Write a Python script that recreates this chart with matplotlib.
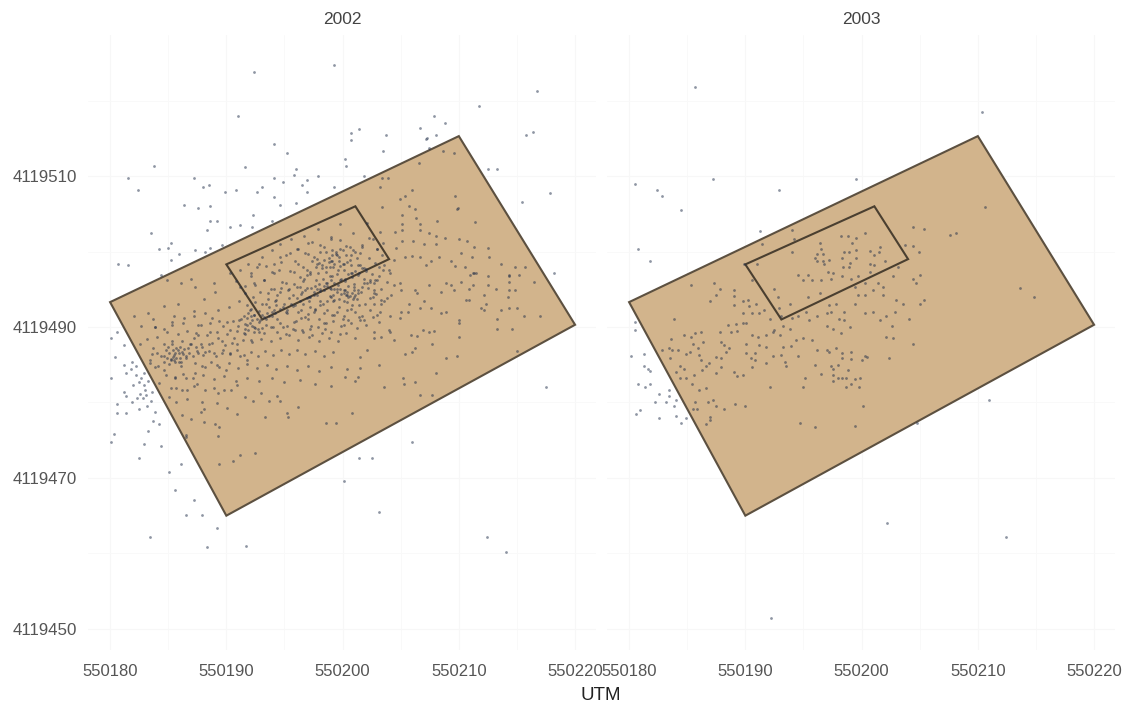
import numpy as np
import matplotlib
matplotlib.use('Agg')
import matplotlib.pyplot as plt

plt.rcParams['font.family'] = ['Liberation Sans', 'DejaVu Sans']

# ================= DATA =================
E0 = 550000
N0 = 4119000

YEARS = ['2002', '2003']
X_TICKS = [550180, 550190, 550200, 550210, 550220]
Y_TICKS = [4119450, 4119470, 4119490, 4119510]

# plot corners (easting, northing), offsets from E0 / N0
PLOT_X = [180, 210, 220, 190]
PLOT_Y = [493.3, 515.3, 490.3, 465]
CORE_X = [190, 201.1, 204, 193.1]
CORE_Y = [498.3, 506, 499, 491]

# points, offsets from E0 / N0
TOP_2002 = [
 (192.4,523.8),(199.3,524.7),(191,518),(194.1,514.3),(195.2,513),(183.8,511.4),(191.6,511.2),(196,510.9),
 (195.8,510.2),(194.1,509.8),(196.9,509.5),(197.9,510),(194.9,509.2),(181.5,509.7),(182.4,508.2),(187.2,509.7),
 (188,508.6),(188.5,508.8),(193.1,508.6),(189.9,507.9),(190.8,508.1),(192.6,507.9),(196.5,508.8),(196.9,507.9),
 (199.3,508.6),(194.1,507.2),(194.6,506.2),(196,506.4),(186.4,506.2),(187.6,505.8),(188.6,506.1),(192.3,504.8),
 (188.6,504),(189.2,504),(191.2,503.5),(190.3,503.2),(192.2,503.2),(188.3,502.8),(193.9,504.1),(183.5,502.4),
 (185.2,501.1),(185,500.5),(184.2,500.3),(185.9,499.7),(187.3,500.2),(188.2,500),(188.6,500.5),(189.6,500.9),
 (185.2,498.9),(180.7,498.4),(181.5,498.2),(216.7,521.3),(211.7,519.3),(207.9,517.9),(208.8,517),(206.7,516.4),
 (203.7,515.4),(201.4,516.3),(200.7,515.7),(200.7,514.8),(207.2,514.9),(207.3,515),(208,515.4),(203.5,513.3),
 (200.2,512.3),(200.3,511.4),(201.8,510),(207.4,513.7),(215.8,515.4),(216.4,515.9),(212.5,510.9),(213.3,510.9),
 (217.8,507.7),(215.4,506.6),(218.2,497.1),
]
RIGHT_2002 = [
 (208.6,513.3),(209.6,513),(206.6,511.8),(203.9,509.8),(203.4,509.8),(203.2,508.6),(206,508.2),(205.4,507.4),
 (204.9,507),(209.7,507.4),(209.8,505.7),(209.9,505.8),(205.7,506.1),(206.2,505.7),(203.4,505.9),(205.1,504.8),
 (206.3,504.4),(208.1,504),(211.4,503.9),(205.1,503.7),(206.7,503.7),(206.7,502.9),(205.1,502.9),(204.5,502.6),
 (207.4,502.4),(208.8,501.8),(208,502),(210,501.6),(210.7,501.4),(205.1,501.4),(206.1,501.4),(207,501),(208,501),
 (211.3,500.6),(212.5,500.5),(204.6,500.5),(210.2,499.8),(206,499.4),(206.7,499.3),(205.4,499.3),(208.3,499.3),
 (211.1,499.3),(212.6,499.3),(207.6,498.7),(207.2,498.2),(209.3,498.7),(209.7,498.1),(210.5,498),(213.6,498.4),
 (214.8,498),(215.7,498),(211.3,497.1),(211,496.9),(214.3,496.8),(212.5,496.7),(203.5,497.5),(204.4,498.9),
 (203.1,496.7),(204.1,497.1),(214.3,496.9),(214.3,496),(214.3,494.9),(214.8,494.9),(214.2,494),(216.5,496),
 (215.2,496.9),(213.2,495.1),(212.5,495.6),(212.2,494.2),(212.3,493.1),(211.9,492.5),(212.2,492.3),(210.6,493.6),
 (210.9,493.6),(211.2,495.6),(210.9,495.1),(211.2,497.1),(211.5,497.2),(210.2,496),(209.6,494.9),(209.3,495.6),
 (208.9,495.8),(208.5,494.7),(207.4,495.6),(207,493.4),(207.6,492.5),(206.7,492.5),(206.2,494.9),(206.4,494.5),
 (205.7,493.1),(205,494.9),(204.9,495.8),(204.4,495.6),(205.6,492),(205,492),(204.1,491.4),(203.3,493.6),
 (203.6,493.4),(202.7,493.1),(203,496.2),(202.6,494),(201.8,495.8),(201,494.9),(201,494),(200.4,494.2),
 (200.1,494.9),(201.3,494.5),(201.7,491.4),(200.7,490.5),(201.1,492),(200.1,490.3),(201.5,490.9),(203.1,490.7),
 (204,489.6),(202.7,488.5),(201.1,488.5),(200.3,489.2),(213.3,489.8),(214.6,489.8),(213.3,491),(215.6,491.4),
 (217,491.4),(213.6,492.3),(214.3,492.5),(215,492.5),(210,490.5),(210,490.9),(208.9,492),(208.5,491.8),
 (204.9,491.2),(204.4,488.3),(204.1,489.4),(202.7,489.4),(203.3,488.7),(206.9,489.6),(207.4,489.4),(207.9,489.5),
 (206.4,488.8),(205.9,488.9),(210,488.7),(207.7,487.8),(206,486.7),(206.2,487.2),(205.4,486.4),(202.1,486.9),
 (201.5,486),(201.5,484.6),(203.1,485),(208.9,485.9),(209.8,486.2),(215,486.8),(208,483.9),(205.2,483.3),
 (205.3,482.5),(206.2,482.7),(203.6,482.1),(206.7,481),(207.7,481),(200.8,478.6),(201.3,483.4),(200.2,483.4),
 (201.1,482.8),(200.4,484.5),
]
OUTSIDE_2002 = [
 (180.1,488.5),(180.6,489.3),(181.2,487.6),(180.4,486),(180.1,483.2),(181.4,483.9),(181.8,484.4),(181.2,485),
 (182,482.3),(182.7,483.2),(182.9,482.3),(182.6,481.1),(183,481.7),(183.6,481.4),(182.8,480.6),(181.2,481.4),
 (181.4,480.8),(180.6,479.8),(181.9,480.1),(182.5,479.2),(183.2,479.5),(180.6,478.6),(181.4,478.6),(183.9,478.8),
 (183.7,477.5),(184.2,477.2),(180.3,475.8),(180.1,474.8),(183.3,476.2),(182.9,474.5),(184.4,474.3),(182.5,472.6),
 (186.1,471.9),(185.1,470.8),(186.5,475.7),(182.2,483.6),(182.5,482.7),(182.9,483.9),(183.3,482.9),(183.1,481),
 (182.3,480.6),(183.5,480.2),(181.9,485.3),(182.2,484.9),(185.6,468.4),(187.2,467.1),(186.5,465.1),(187.9,465.1),
 (189.2,463.4),(183.4,462.2),(188.3,460.9),(191.7,461),(203.1,465.5),(200.1,469.6),(212.4,462.2),(214.1,460.2),
 (217.5,482.1),(206,474.8),(201.4,472.7),(202.5,472.7),
]
LEFT_2002 = [
 (184.4,496.9),(184.9,496.2),(186.1,495.9),(187,496.4),(187.3,495.3),(188.9,495.8),(189,494.7),(188.1,493.7),
 (185.8,493.1),(184.6,492.8),(183.3,491.9),(182.1,491.4),(182.7,490.2),(183.9,490),(185.3,490.7),(186.4,491.2),
 (187.2,492.1),(188.2,491.8),(189.3,492.2),(190.2,492.6),(191.1,493.5),(191.8,492.9),(192.3,494),(187.6,490.3),
 (188.6,490.6),(189.7,490.2),(190.6,490.8),(191.3,491.1),(192.1,491.5),(192.8,490.7),(193.1,489.9),(192.4,489.3),
 (191.6,489.8),(190.9,489.5),(190.1,489.1),(189.2,489.3),(188.3,488.9),(187.4,489.2),(186.6,489.5),(185.8,489.1),
 (184.9,489.4),(184,488.7),(183.2,488.4),(182.6,487.7),(183.7,487.2),(184.6,487.8),(185.3,488.2),(186.2,488.1),
 (187,487.8),(187.9,487.4),(188.8,487.9),(189.6,488.2),(190.5,487.9),(191.4,488.3),(192.2,488),(193,488.4),
 (193.8,488.1),(194.6,488.5),(195.4,488.9),(196.2,488.3),(197.1,488.7),(198,488.2),(198.8,488.6),(199.6,488.1),
 (183.6,486.4),(184.4,486.1),(184.8,487),(185.1,486.6),(185.4,486.9),(185.5,486.3),(185.7,487.2),(185.9,486.5),
 (186,485.9),(186.2,486.7),(186.4,487.1),(186.5,486.2),(186.8,486.6),(187.1,486.1),(185.2,485.6),(185.6,485.4),
 (186.1,485.3),(184.6,485.4),(184.1,484.8),(183.4,485.2),(187.5,486.8),(188,486.3),(188.5,486.8),(189.1,486.2),
 (189.7,486.9),(190.3,486.4),(190.9,486.9),(191.5,486.3),(192.1,486.7),(192.7,486.2),(193.3,486.8),(194,486.3),
 (194.7,486.9),(195.4,486.4),(196.1,486.9),(196.8,486.4),(197.6,486.8),(198.4,486.2),(199.2,486.7),(187.3,485.2),
 (187.9,484.8),(188.7,485.3),(189.4,484.7),(190.2,485.2),(191,484.6),(191.8,485.1),(192.6,484.6),(193.5,485),
 (194.3,484.4),(195.2,484.9),(196.1,484.3),(197,484.8),(198,484.2),(199,484.7),(184.8,483.6),(185.6,483.2),
 (186.3,483.8),(187.1,483.3),(188,483.7),(188.9,483.1),(189.8,483.5),(190.8,482.9),(191.8,483.3),(192.8,482.8),
 (193.9,483.2),(195,482.7),(196.3,483),(197.6,482.4),(199,482.2),(184.2,482.6),(185.2,481.9),(186.2,481.7),
 (187.2,482.2),(188.2,481.6),(189.3,481.2),(190.4,481.7),(191.6,480.7),(193,481.3),(194.4,480.9),(185.1,480.7),
 (185.7,480),(186.6,480.4),(187.9,480.1),(188.1,479.2),(187.8,478.7),(189.2,479.9),(190.1,479.3),(192.3,480.2),
 (193.7,480.2),(194.6,480.2),(196.2,479.4),(195.2,478.6),(193.3,478.1),(190.9,478.5),(186.2,478.4),(187,477.8),
 (188.1,477.4),(189,477.2),(189.4,476.8),(195.3,478.1),(198.6,477.3),(199.4,477.3),(189.3,475.6),(186.5,475.4),
 (190.6,472.3),(191.2,473),(192.5,473.3),(189.4,471.8),
 # second pass over the western patch
 (185.5,485.6),(185.2,485.7),(185.6,486.5),(186,487.4),(185.3,487.8),(185.9,485.4),(186.5,485.9),(187.2,488.5),
 (187.6,488.9),(187.8,487.8),(186.9,487.8),(187.6,486.5),(188.2,486.7),(188.9,486.5),(189.6,486.5),(190.3,486.5),
 (188.6,489.4),(190.1,490.7),(190.3,489.6),(191.5,491.4),(191.9,491.8),(191.8,490.3),(192.4,491.6),(188.5,487.8),
 (189.3,488.5),(184.6,486.1),(184,486.5),(183.4,485.6),(183.9,484.7),(184.6,484.3),(185.6,483.4),(186.5,483.2),
 (187.3,483.9),(188.2,484.7),(189.2,485),(190,484.3),(191.2,486.1),(191.8,485.6),(190.9,487.8),(192.1,488.3),
 (187.5,482.5),(186.6,481.7),(185.7,481.9),(188.9,481.9),(189.8,481.7),(190.9,482.3),(184.6,489.8),(183.9,490),
 (185.3,490.3),(186.3,490.5),(187.8,490.3),(187.2,491.4),(185.5,491.4),(183.7,491.1),(185.4,486),(185.8,486.9),
 (185,487.3),(186.3,486.4),(185.1,485.1),(185.7,485.9),(186.7,487.2),(184.9,485.9),(186.1,484.8),(187.4,487.3),
 (189.9,487.6),(190.7,488.6),(191.6,489.1),(192.5,489.9),(191,490.2),(189.4,490.8),(188.8,491.2),
]
DENSE_2002 = [
 (190.3,497.1),(190.8,496.1),(191.2,497.6),(191.6,495.4),(191.9,498.4),(192.1,496.7),(192.4,495.9),(192.6,497.9),
 (192.9,494.6),(193.1,499.3),(193.2,496.2),(193.4,498.1),(193.6,493.7),(193.8,495.1),(193.9,500.2),(194.1,497.2),
 (194.3,492.9),(194.4,494.3),(194.6,501),(194.7,498.6),(194.8,496),(195,493.1),(195.1,499.5),(195.2,491.9),
 (195.3,494.9),(195.5,497.4),(195.6,501.6),(195.7,492.8),(195.8,495.7),(195.9,498.8),(196,490.8),(196.1,493.9),
 (196.2,500.4),(196.3,496.6),(196.4,492.2),(196.5,494.6),(196.6,498),(196.7,502.1),(196.8,491.3),(196.9,495.2),
 (197,499.7),(197.1,493.4),(197.2,497),(197.3,490.2),(197.4,501.3),(197.5,494.2),(197.6,492.4),(197.7,496.2),
 (197.8,499),(197.9,503),(198,491.1),(198.1,494.8),(198.2,497.8),(198.3,493),(198.4,500.6),(198.5,489.7),
 (198.6,495.9),(198.7,492.2),(198.8,498.6),(198.9,494.1),(199,501.9),(199.1,496.8),(199.2,490.8),(199.3,493.6),
 (199.4,499.7),(199.5,495.1),(199.6,497.5),(199.7,492.6),(199.8,503.6),(199.9,494.4),(200,498.4),(200.1,491.5),
 (200.2,496.1),(200.3,500.8),(200.4,493.3),(200.5,495.4),(200.6,498.9),(200.7,492.4),(200.8,497.2),(200.9,502.4),
 (201,495.7),(201.1,499.9),(201.2,493.7),(201.3,496.9),(201.4,491.3),(201.5,498.2),(201.6,494.7),(201.7,500.9),
 (201.8,496.3),(201.9,493),(202,497.7),(202.1,503.8),(202.2,495.2),(202.3,499.2),(202.4,492.2),(202.5,497),
 (202.6,501.7),(202.7,495.8),(202.8,498.5),(202.9,494.4),(203,500.3),(203.1,497.9),(203.2,502.6),(203.3,495),
 (203.4,499.6),(203.5,501.2),(203.6,498.2),(203.8,496),(204,497.6),(204.2,494.2),
 # ridge along the lower edge of the core area
 (192.4,491.6),(192.8,492.1),(193.2,491.3),(193.5,491.9),(193.9,491.4),(194.2,491.8),(194.6,492.4),(194.9,492.7),
 (195.2,492.3),(195.6,493),(195.9,492.9),(196.3,493.5),(196.6,493.1),(196.9,493.8),(197.2,494),(197.5,494.6),
 (197.8,494.3),(198.1,495.1),(198.4,494.9),(198.7,495.4),(199,495.1),(199.3,495.9),(199.6,495.6),(199.9,496.3),
 (200.2,496.4),(200.5,497),(200.8,496.6),(201.1,497.4),(201.4,497.1),(201.7,497.8),(202,497.4),(198.3,496.4),
 (198.6,497.3),(198.9,496.7),(199.2,497.9),(199.5,497),(199.8,498.1),(200.1,497.6),(200.4,498.6),(200.7,498.2),
 (198.8,499.1),(199.1,498.8),(199.4,499.9),(199.7,499.3),(200,500.2),(200.3,499.6),(200.6,500.6),(200.9,500.2),
 (201.2,499.1),(201.5,499.8),(197.4,498.7),(197.7,497.9),(198,498.5),(196.3,495.3),(196.6,496.1),(196.9,496.9),
 (195.4,495.1),(195.7,494.3),(194.7,495.2),(194.3,493.6),(193.7,492.6),(193.1,493),(192.5,493.3),(192.1,492.4),
 (201.3,494.9),(201.7,495.3),(202.1,495.8),(202.4,496.2),(202.7,494.9),(200.6,494.1),(200.2,494.9),(199.7,493.7),
 (199.2,494.2),(198.7,493.5),(198.1,492.9),(197.6,492.2),(197,491.7),(196.4,491.2),(195.8,490.7),(195.2,490.2),
 (194.6,490.5),(194,490),(193.4,490.3),(192.8,489.4),(192.2,490.1),(191.6,490.4),(197.2,489.8),(197.9,490),
 (198.6,490.6),(199.3,491.6),(199.9,490.1),(200.5,490.9),(201.2,489.9),(202,490.3),(202.6,491.3),(203.2,492),
 (194.4,489.3),(195.1,489.1),(195.9,489.6),(196.6,489.3),(197.4,488.9),(198.2,489.2),(199,489.4),(199.8,489.1),
 # dark spots from the close-up
 (195.8,497.3),(196.2,498.4),(197.2,497.3),(198.2,498.2),(198.1,500),(199.1,500.2),(199.8,500.4),(199.5,499.5),
 (199,498.7),(197.5,499.3),(196.8,499.8),(195.5,499.8),(194.6,499.3),(193.9,497.3),(194.1,495.1),(194.6,494.7),
 (193.6,494.5),(195.1,495.8),(196.1,495.3),(197.1,494),(197.8,495.1),(198.7,495.8),(199,496.2),(199.8,496.2),
 (200.3,494.2),(200.5,494),(201.1,494.2),(201,495.3),(199.8,495.1),(199,494),(198.1,493.4),(197.2,492.7),
 (196.2,492),(195.1,492),(193.9,492),(193.1,491.6),(192,492.3),(191.8,491.2),(192.4,490),(191.9,489.6),
 (194.9,490),(195.7,489.8),(197.5,492),(198.4,491.8),(199.5,492),(200.4,492.3),(202.4,496),(202.8,496.2),
 (201.8,497.8),(201.3,498.2),(200.7,497.1),(197.9,497.1),(196.7,496.4),(195.4,493.8),(194.2,493.4),(193.4,493.1),
 (199.2,493.4),(201.4,492.9),(196.9,497.6),(197.8,498.4),(198.4,498.9),(200.1,498.4),(200.7,499.5),(199.8,501.5),
 (199,501.7),(198.1,500.9),(197,501.1),(196.1,500.4),(201.7,500.6),(202.3,501.8),(203,500.4),(192.8,498.4),
 (192.1,497.1),(192.5,495.6),(191.6,494.5),(191.2,495.3),(193.2,496.2),(194.5,497.5),(194.1,498.4),(200.1,493.4),
 (200.8,492.9),(199.1,491.6),(200,491.1),(198.4,490.5),(197,491),(196.5,489.6),(193.8,490),(193.2,489.2),
 (191.5,489.2),(191.1,490.9),(194.4,491),(202.4,493.8),(203.3,493.1),(201.8,490.9),(203,491.6),(203.8,493.8),
 (202.7,494.5),(200.4,494.6),(200.1,494.5),(200.8,494.5),(200.9,493.7),(199.5,494.6),(199.3,495),(198.9,495.2),
 (198.4,495.5),(198,495.7),(197.6,495.5),(197.3,495.2),(196.8,494.9),(196.4,494.4),(198.6,497.9),(198.9,498),
 (199.3,498.3),(199.7,498.7),(199.1,499.6),(198.6,499.9),(193.4,491.1),(193.7,491.5),(194.1,492.2),(192.9,490.9),
 (192.6,491.1),(192.2,490.9),(192.7,489.8),(192,490.6),
]

POINTS_2003 = [
 (185.7,521.8),(180.5,509),(182.4,508.2),(182.8,507.4),(187.2,509.6),(192.9,508.2),(199.5,509.6),(184.5,505.5),
 (180.8,500.3),(181.8,498.7),(191.3,502.7),(192.2,451.5),(202.2,464),(212.4,462.2),(210.4,518.5),(204.8,477.3),
 (194,502.8),(194.2,501.7),(191.4,501),(194,499.9),(196.4,501.2),(198.2,502),(198.8,502),(199.5,501.8),(200.3,502.5),
 (199.2,501.1),(204.4,503.2),(205.4,503),(204.4,500.8),(204.9,499.9),(203.7,500.9),(196.5,500.3),(196.2,499.7),
 (196,499.2),(196.7,499.7),(198.5,500),(198.9,499.9),(199.5,500.2),(201.6,500.6),(201.5,500),(201.1,499.6),(200.7,500.1),
 (198.3,499.2),(199.5,499.2),(200.7,498.4),(201.1,498.2),(202,498.7),(203.1,498),(199,498.5),(198.9,498),(198.4,498),
 (196.8,498.4),(197.2,498.9),(196.2,498.7),(196.7,498.7),(194.5,496.9),(195,496.2),(195.7,496.2),(195.4,496.9),
 (196.5,496.2),(197.1,497.3),(197.4,496.4),(197.5,497.1),(198.3,496.7),(199.1,496.4),(199.7,496.7),(200.7,497.3),
 (201.4,495.8),(201.8,495.3),(202.7,496.7),(200.3,495.8),(199.4,495.3),(204.4,496.4),(205,496.9),(204.7,495.8),
 (191,498.4),(190.6,496.2),(189.9,498.4),(187.3,495.9),(187.8,495.1),(185.3,495.6),(189,494.9),(192.5,495.1),
 (187.5,494.2),(187,493.4),(189,494.1),(189,492.9),(189.8,493.5),(190.2,493.6),(190.3,492.8),(190.9,493.1),(191.6,492.3),
 (189.8,491.8),(190.6,491.8),(191.2,491.8),(192.1,491),(189.8,490.6),(189.2,490.4),(188.5,490.3),(190.1,490.5),(183.9,491),
 (192.8,494),(192.9,492.5),(193.1,491.4),(194,491.2),(194.5,491.4),(195.2,492),(195.5,490.9),(196.2,491.4),(197,491.8),
 (197.4,492),(198.5,492),(198.1,491),(198.5,490.9),(197,490.1),(197.5,489.8),(199,490),(198.2,489.2),(200.3,491.8),
 (201,492),(201.6,490.9),(202.1,491.5),(202.9,492),(204.1,491),(202.6,490.1),(202.1,488.7),(202.7,488.5),(204.4,487.8),
 (205.4,493.6),(205,493),(203.6,493.1),(203,493.6),(201.8,494.2),(201,494.9),(199.7,494.2),(200.3,494.2),(199.4,493),
 (197.2,492.9),(197.8,493.1),(196.4,494.5),(195.4,494),(193.8,493),(192.5,489.6),(192.4,489.4),(193,488.9),(193.8,489.7),
 (193.2,490.1),(190.6,489),(191.1,488.7),(191.8,488.9),(191.2,487.6),(191.8,487.4),(190.1,487.8),(193.2,487.4),(194.4,488.3),
 (195,488.6),(195.7,488.3),(193.9,487.5),(194.5,486.1),(193.1,486.3),(192.4,486.1),(193.4,485.4),(193.5,484.8),(191.8,485.2),
 (190.1,486.5),(190.8,486.5),(190.5,485.9),(190.8,485.6),(190.6,484.7),(189,484.1),(189.3,483.5),(189.8,483.7),(188.6,487.2),
 (188.3,486.7),(187.9,488),(188.2,487.6),(187.8,489.4),(188.8,489.4),(189.3,489.5),(186.2,489.4),(185.7,489.2),(185.3,488.7),
 (184.7,488.9),(183.6,488.4),(186.4,488),(185.5,487.8),(185.9,487.2),(185.2,486.7),(184.9,486.4),(186,486.3),(186.2,485.6),
 (184.2,486.9),(183.7,486.9),(183.4,487.2),(182.8,487),(183.5,485.9),(184,484.1),(184.4,484.8),(184.7,484.5),(185.6,483.7),
 (184.9,483.2),(184.4,483.3),(186.9,485.2),(186.6,484.8),(186.3,484.3),(187.5,486),(187.9,485.9),(187.5,483.9),(187.9,484.7),
 (185.4,482.5),(186.6,481.9),(186,481.6),(185.7,480.1),(186.8,480),(187.2,480.3),(187.5,479.5),(188.2,479.1),(189.1,479.8),
 (190,479.6),(185.5,479.1),(185.8,479.1),(187,478.1),(187,477.7),(186.6,477.1),(192.1,482.1),(195,482),(195.1,483.2),(196,485),
 (196.5,483.8),(197.4,484.8),(197.5,484.5),(198,485),(197.5,483.7),(197.5,482.9),(198,483.2),(198.3,483.2),(198.7,483.3),
 (199.4,483.1),(199.9,483.2),(198.8,484.3),(198.7,482),(199.8,482),(199.1,482.5),(196.2,487),(197,487),(197.2,486.7),(197.8,487.2),
 (198.3,486.5),(198.3,485.9),(199.1,486.7),(199.1,485.7),(200,485.6),(200.3,486.2),(200.5,486),(202.4,485.9),(200.1,479.5),
 (194.7,477.3),(196,476.8),(199.4,476.9),(180.5,490.7),(180.5,489.6),(181.3,486.4),(180.2,486.1),(181.3,484.9),(181.6,484.5),
 (181.8,484.2),(180.8,482.5),(181.4,482.1),(181.8,482.5),(182.6,481.1),(183.4,481.7),(183.4,480.8),(184,480.3),(182.2,480),
 (183.2,480),(183.9,479.5),(180.9,479),(180.6,478.5),(182.6,478),(184,478.2),(184.9,478),(184.5,477.3),(213.6,495.2),(214.8,494),
 (210.6,505.9),(208.1,502.5),(207.6,502.2),(211,480.3),
]
POINTS_2002 = TOP_2002 + RIGHT_2002 + OUTSIDE_2002 + LEFT_2002 + DENSE_2002

fig, axes = plt.subplots(1, 2, figsize=(11.25, 7.04), dpi=100)

for ax, year, pts, left in zip(axes, YEARS, [POINTS_2002, POINTS_2003], [88 / 1125, 607 / 1125]):
    ax.set_position([left, 1 - 650 / 704, 508 / 1125, 615 / 704])
    ax.set_xlim(E0 + 178.1, E0 + 221.8)
    ax.set_ylim(N0 + 447.2, N0 + 528.7)

    for s in ax.spines.values():
        s.set_visible(False)
    ax.set_axisbelow(True)
    ax.set_xticks(X_TICKS)
    ax.set_yticks(Y_TICKS)
    ax.set_xticks([E0 + v for v in (185, 195, 205, 215)], minor=True)
    ax.set_yticks([N0 + v for v in (460, 480, 500, 520)], minor=True)
    ax.ticklabel_format(useOffset=False, style='plain')
    ax.grid(True, which='major', color='#f7f7f7', lw=0.8)
    ax.grid(True, which='minor', color='#f9f9f9', lw=0.6)
    ax.tick_params(which='both', length=0)
    ax.tick_params(axis='x', labelsize=12, labelcolor='#555555', pad=10)
    ax.tick_params(axis='y', labelsize=12.2, labelcolor='#555555', pad=8)

    ax.fill([E0 + v for v in PLOT_X], [N0 + v for v in PLOT_Y], facecolor='#d2b48c',
            edgecolor='#5c5040', lw=1.5, zorder=2)
    ax.fill([E0 + v for v in CORE_X], [N0 + v for v in CORE_Y], fill=False,
            edgecolor='#4a3f30', lw=1.5, zorder=3)

    xy = np.array(pts)
    ax.scatter(xy[:, 0] + E0, xy[:, 1] + N0, s=4, color='#1e2c48', alpha=0.5, linewidths=0, zorder=4)
    ax.set_title(year, fontsize=12.5, color='#444444', y=1.0, pad=8)

axes[1].tick_params(axis='y', labelleft=False)

fig.text(601 / 1125, 1 - 696 / 704, 'UTM', fontsize=13.5, color='#222222', ha='center', va='center')

fig.savefig('out.png', dpi=100)
